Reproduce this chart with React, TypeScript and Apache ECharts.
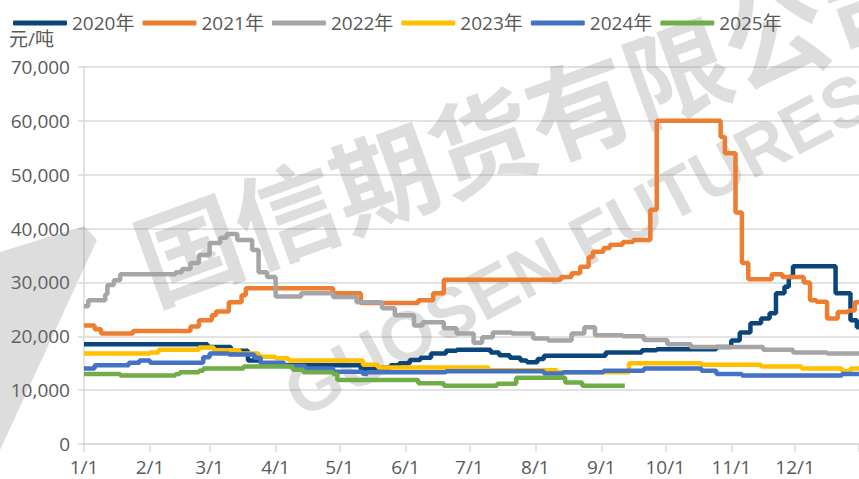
import React, { useEffect, useRef } from "react";
import * as echarts from "echarts";

const MONTH_DAYS = [31, 28, 31, 30, 31, 30, 31, 31, 30, 31, 30, 31];
const categories: string[] = [];
MONTH_DAYS.forEach((n, i) => {
  for (let d = 1; d <= n; d++) categories.push(`${i + 1}/${d}`);
});

const seriesNames = ["2020年", "2021年", "2022年", "2023年", "2024年", "2025年"];
const seriesColors = ["#0A467C", "#ED7D31", "#A5A5A5", "#FFC000", "#4472C4", "#70AD47"];

const yMin = 0;
const yMax = 70000;
const yInterval = 10000;

const s2020: [string, number][] = [
  ["1/1", 18500], ["2/28", 18000], ["3/11", 17300], ["3/19", 15500], ["3/25", 15000],
  ["4/1", 14600], ["5/11", 13900], ["5/21", 14200], ["5/25", 14600], ["5/29", 15000],
  ["6/3", 15600], ["6/8", 16000], ["6/13", 16800], ["6/20", 17300], ["6/25", 17500],
  ["7/11", 17000], ["7/15", 16500], ["7/20", 16000], ["7/25", 15500], ["7/28", 15200],
  ["8/2", 15800], ["8/5", 16400], ["9/3", 17000], ["9/20", 17400], ["9/27", 17600],
  ["10/25", 18000], ["11/1", 19200], ["11/5", 20700], ["11/10", 22400], ["11/15", 23300],
  ["11/19", 24300], ["11/22", 28000], ["11/26", 29200], ["11/28", 31000], ["11/30", 33000],
  ["12/20", 28000], ["12/27", 23000], ["12/30", 21700], ["12/31", 21700],
];

const s2021: [string, number][] = [
  ["1/1", 22000], ["1/6", 21300], ["1/9", 20500], ["1/24", 21000], ["2/20", 21800],
  ["2/24", 23000], ["3/2", 23900], ["3/4", 24600], ["3/10", 26300], ["3/16", 27600],
  ["3/18", 28900], ["4/28", 28000], ["5/11", 26200], ["6/7", 26700], ["6/14", 28000],
  ["6/19", 30500], ["8/13", 31000], ["8/18", 31700], ["8/22", 32900], ["8/26", 34700],
  ["8/28", 35700], ["9/2", 36400], ["9/5", 37000], ["9/11", 37500], ["9/16", 37900],
  ["9/24", 43500], ["9/27", 60000], ["10/27", 57000], ["10/29", 54000], ["11/3", 43000],
  ["11/6", 33600], ["11/9", 30600], ["11/20", 31500], ["11/25", 31000], ["12/5", 30000],
  ["12/8", 26700], ["12/11", 26400], ["12/16", 23300], ["12/21", 24500], ["12/26", 24800],
  ["12/29", 26300], ["12/31", 26300],
];

const s2022: [string, number][] = [
  ["1/1", 25600], ["1/3", 26700], ["1/11", 27800], ["1/12", 29500], ["1/15", 30400],
  ["1/18", 31500], ["2/13", 31900], ["2/16", 32500], ["2/20", 33600], ["2/24", 35100],
  ["3/1", 37300], ["3/6", 38300], ["3/9", 39000], ["3/14", 37900], ["3/21", 36000],
  ["3/24", 31900], ["3/28", 31000], ["4/1", 27400], ["4/13", 28000], ["4/28", 27300],
  ["5/9", 26300], ["5/21", 25200], ["5/27", 23900], ["6/5", 22000], ["6/9", 22600],
  ["6/19", 21500], ["6/25", 20500], ["7/3", 18800], ["7/7", 19800], ["7/12", 20700],
  ["7/21", 20500], ["7/31", 19600], ["8/7", 19200], ["8/18", 20500], ["8/24", 21700],
  ["8/29", 20200], ["9/11", 20000], ["9/21", 19300], ["10/2", 18500], ["10/13", 18000],
  ["11/16", 17500], ["11/30", 17000], ["12/16", 16800], ["12/31", 16800],
];

const s2023: [string, number][] = [
  ["1/1", 16800], ["2/1", 17000], ["2/5", 17500], ["2/24", 17900], ["3/3", 17400],
  ["3/15", 16800], ["3/24", 16200], ["4/1", 15900], ["4/7", 15500], ["5/12", 14700],
  ["5/19", 14200], ["7/10", 13700], ["8/11", 13300], ["9/14", 15000], ["10/18", 14700],
  ["11/15", 14400], ["12/4", 14000], ["12/23", 13500], ["12/27", 14000], ["12/31", 14000],
];

const s2024: [string, number][] = [
  ["1/1", 14000], ["1/6", 14600], ["1/22", 15100], ["1/27", 15500], ["2/1", 15100],
  ["2/26", 16100], ["3/1", 16800], ["3/10", 16600], ["3/22", 16000], ["3/25", 15100],
  ["4/5", 14500], ["4/15", 14000], ["4/28", 13400], ["5/12", 13000], ["5/14", 13300],
  ["6/20", 13500], ["8/5", 13100], ["8/14", 13300], ["9/2", 13600], ["9/21", 14000],
  ["10/18", 13600], ["10/25", 13000], ["11/6", 12700], ["12/23", 13000], ["12/31", 13000],
];

const s2025: [string, number][] = [
  ["1/1", 13000], ["1/18", 12700], ["2/13", 13000], ["2/15", 13300], ["2/24", 13600],
  ["2/26", 14000], ["3/17", 14400], ["4/9", 13800], ["4/14", 13300], ["4/28", 13000],
  ["4/30", 11900], ["6/7", 11300], ["6/19", 10800], ["7/14", 11200], ["7/23", 12300],
  ["8/15", 11400], ["8/23", 10800], ["9/12", 10800],
];

const allSeries = [s2020, s2021, s2022, s2023, s2024, s2025];

const FONT = '"Open Sans", "Noto Sans CJK SC", sans-serif';
const TEXT_COLOR = "#595959";
const GRID_COLOR = "#D9D9D9";
const WM_FILL = "rgba(120,120,120,0.25)";

export default function App() {
  const ref = useRef<HTMLDivElement>(null);

  useEffect(() => {
    document.body.style.margin = "0";
    if (!ref.current) return;
    const chart = echarts.init(ref.current, undefined, { renderer: "svg" });
    const isMonthStart = (_i: number, v: string) => v.endsWith("/1");

    const option: any = {
      animation: false,
      backgroundColor: "#ffffff",
      textStyle: { fontFamily: FONT },
      grid: { left: 84, right: 0, top: 67, bottom: 35, containLabel: false },
      legend: {
        left: 8,
        top: 6,
        itemWidth: 54,
        itemHeight: 5,
        itemGap: 8,
        icon: "roundRect",
        textStyle: { fontFamily: FONT, fontSize: 19, color: TEXT_COLOR, lineHeight: 24 },
        data: seriesNames,
      },
      xAxis: {
        type: "category",
        data: categories,
        boundaryGap: false,
        axisLine: { show: true, lineStyle: { color: GRID_COLOR, width: 1.5 } },
        axisTick: {
          show: true,
          length: 8,
          interval: (i: number, v: string) => isMonthStart(i, v) || i === categories.length - 1,
          lineStyle: { color: GRID_COLOR, width: 1.5 },
        },
        axisLabel: {
          interval: isMonthStart,
          fontFamily: FONT,
          fontSize: 19,
          color: TEXT_COLOR,
          margin: 13,
        },
        splitLine: { show: false },
      },
      yAxis: {
        type: "value",
        min: yMin,
        max: yMax,
        interval: yInterval,
        axisLine: { show: true, lineStyle: { color: GRID_COLOR, width: 1.5 } },
        axisTick: { show: true, length: 6, lineStyle: { color: GRID_COLOR, width: 1.5 } },
        axisLabel: {
          fontFamily: FONT,
          fontSize: 19,
          color: TEXT_COLOR,
          margin: 14,
          formatter: (v: number) => v.toLocaleString("en-US"),
        },
        splitLine: { show: true, lineStyle: { color: GRID_COLOR, width: 1.5 } },
      },
      graphic: [
        {
          type: "text",
          left: 9,
          top: 29,
          style: { text: "元/吨", font: `19px ${FONT}`, fill: TEXT_COLOR },
        },
        {
          type: "polygon",
          z: 1,
          shape: { points: [[0, 252], [84, 226], [97, 240], [0, 450]] },
          style: { fill: WM_FILL },
        },
        {
          type: "text",
          z: 1,
          x: 138,
          y: 262,
          rotation: (20 * Math.PI) / 180,
          style: {
            text: "国信期货有限公司",
            font: `bold 104px "Noto Sans CJK SC", sans-serif`,
            fill: WM_FILL,
            textVerticalAlign: "middle",
            verticalAlign: "middle",
          },
        },
        {
          type: "text",
          z: 1,
          x: 290,
          y: 398,
          rotation: (28 * Math.PI) / 180,
          style: {
            text: "GUOSEN FUTURES",
            font: `bold 70px "Liberation Sans", sans-serif`,
            fill: WM_FILL,
            textVerticalAlign: "middle",
            verticalAlign: "middle",
          },
        },
      ],
      series: allSeries.map((arr, k) => ({
        name: seriesNames[k],
        type: "line",
        step: "end",
        symbol: "none",
        z: 3,
        color: seriesColors[k],
        lineStyle: { width: 4.5, color: seriesColors[k] },
        data: arr.map(([d, v]) => [categories.indexOf(d), v]),
      })),
    };

    chart.setOption(option);
    return () => chart.dispose();
  }, []);

  return <div ref={ref} style={{ width: 859, height: 479 }} />;
}
